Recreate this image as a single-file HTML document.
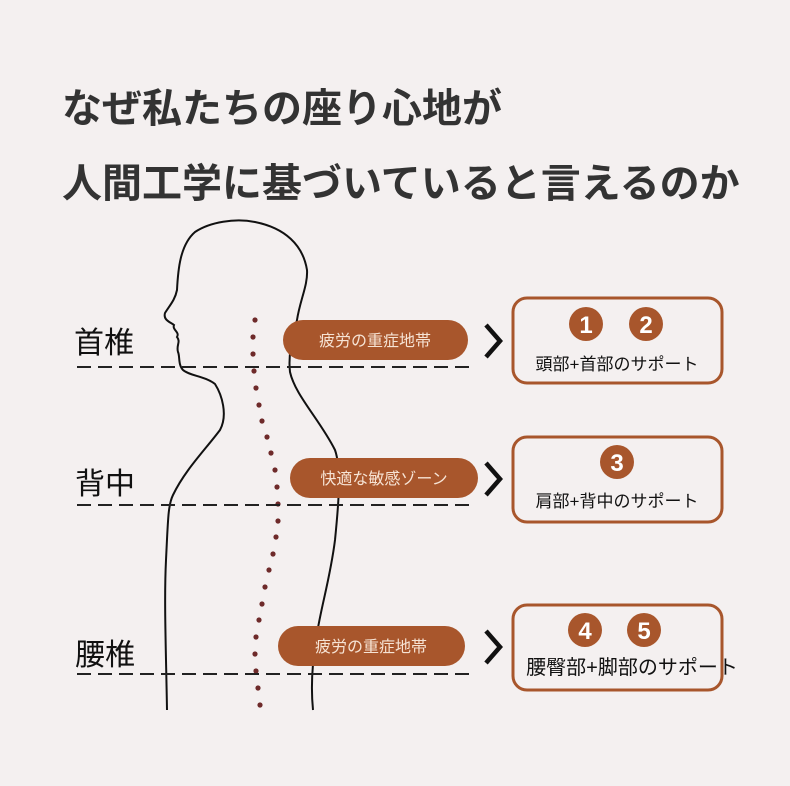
<!DOCTYPE html>
<html><head><meta charset="utf-8"><style>
html,body{margin:0;padding:0;background:#f4f0f0;}
svg{display:block;font-family:"Liberation Sans","Noto Sans CJK JP",sans-serif;}
</style></head><body>
<svg width="790" height="786" viewBox="0 0 790 786">
<rect width="790" height="786" fill="#f4f0f0"/>
<text x="62" y="122" font-size="40" font-weight="bold" fill="#333">なぜ私たちの座り心地が</text>
<text x="62" y="197" font-size="40" font-weight="bold" fill="#333">人間工学に基づいていると言えるのか</text>
<!-- body outline -->
<path d="M167,710 C166,650 164,600 166,560 C168,520 168,505 173,495 C185,470 205,450 220,430 C228,415 222,395 215,384 C205,376 190,376 183,370 C178,365 180,356 178,352 C176,345 181,342 177,337 C180,332 172,330 174,325 C170,322 163,320 165,313 C170,305 175,300 177,290 C178,270 180,245 195,232 C210,222 235,218 255,222 C285,228 303,245 307,270 C308,285 300,300 297,320 C292,340 288,355 290,372 C295,395 320,420 335,450 C342,470 338,510 335,540 C330,580 320,610 316,640 C312,665 311,690 313,710" fill="none" stroke="#111" stroke-width="2"/>
<!-- spine dots -->
<g fill="#6e2a2a">
<circle cx="255" cy="320" r="2.6"/><circle cx="253" cy="337" r="2.6"/><circle cx="253" cy="354" r="2.6"/><circle cx="254" cy="371" r="2.6"/><circle cx="256" cy="388" r="2.6"/><circle cx="259" cy="405" r="2.6"/><circle cx="262" cy="421" r="2.6"/><circle cx="267" cy="437" r="2.6"/><circle cx="271" cy="453" r="2.6"/><circle cx="275" cy="470" r="2.6"/><circle cx="277" cy="487" r="2.6"/><circle cx="278" cy="504" r="2.6"/><circle cx="278" cy="521" r="2.6"/><circle cx="276" cy="537" r="2.6"/><circle cx="273" cy="554" r="2.6"/><circle cx="269" cy="570" r="2.6"/><circle cx="265" cy="587" r="2.6"/><circle cx="262" cy="604" r="2.6"/><circle cx="259" cy="620" r="2.6"/><circle cx="256" cy="637" r="2.6"/><circle cx="255" cy="654" r="2.6"/><circle cx="256" cy="671" r="2.6"/><circle cx="258" cy="688" r="2.6"/><circle cx="260" cy="705" r="2.6"/>
</g>
<!-- dashed lines -->
<g stroke="#222" stroke-width="2" stroke-dasharray="14,7">
<line x1="77" y1="367" x2="472" y2="367"/>
<line x1="77" y1="505" x2="472" y2="505"/>
<line x1="77" y1="674" x2="472" y2="674"/>
</g>
<g font-size="30" fill="#111">
<text x="74" y="353">首椎</text>
<text x="75" y="494">背中</text>
<text x="75" y="665">腰椎</text>
</g>
<!-- pills -->
<g fill="#a8562c">
<rect x="283" y="320" width="185" height="40" rx="20"/>
<rect x="290" y="458" width="188" height="40" rx="20"/>
<rect x="278" y="626" width="187" height="40" rx="20"/>
</g>
<g fill="#f6e3d4" font-size="16" text-anchor="middle">
<text x="375" y="346">疲労の重症地帯</text>
<text x="384" y="484">快適な敏感ゾーン</text>
<text x="371" y="652">疲労の重症地帯</text>
</g>
<!-- chevrons -->
<g fill="none" stroke="#111" stroke-width="4.5">
<polyline points="486,325 500,341 486,357"/>
<polyline points="486,463 500,479 486,495"/>
<polyline points="486,631 500,647 486,663"/>
</g>
<!-- boxes -->
<g fill="none" stroke="#a8562c" stroke-width="3">
<rect x="513" y="298" width="209" height="85" rx="14"/>
<rect x="513" y="437" width="209" height="85" rx="14"/>
<rect x="513" y="605" width="209" height="85" rx="14"/>
</g>
<g fill="#a8562c">
<circle cx="586" cy="324" r="17"/><circle cx="646" cy="324" r="17"/>
<circle cx="617" cy="462" r="17"/>
<circle cx="585" cy="630" r="17"/><circle cx="644" cy="630" r="17"/>
</g>
<g fill="#fff" font-size="24" font-weight="bold" text-anchor="middle">
<text x="586" y="333">1</text><text x="646" y="333">2</text>
<text x="617" y="471">3</text>
<text x="585" y="639">4</text><text x="644" y="639">5</text>
</g>
<g fill="#111" text-anchor="middle">
<text x="617" y="370" font-size="17">頭部+首部のサポート</text>
<text x="617" y="507" font-size="17">肩部+背中のサポート</text>
<text x="632" y="674" font-size="20">腰臀部+脚部のサポート</text>
</g>
</svg>
</body></html>
